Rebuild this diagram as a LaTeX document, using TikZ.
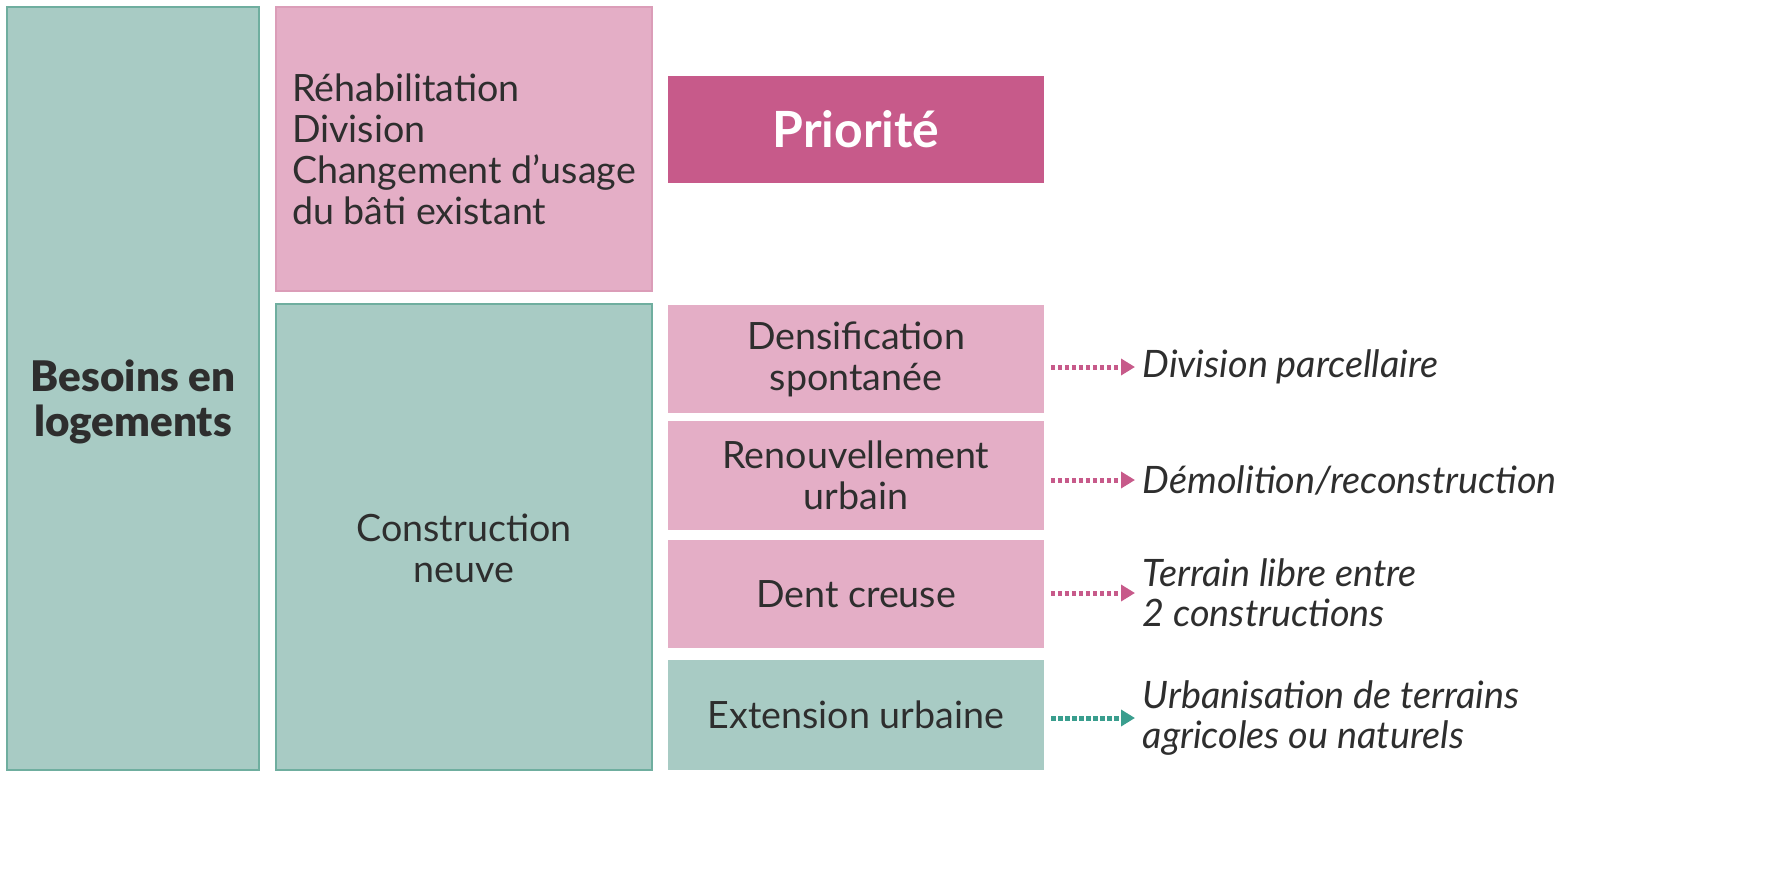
\documentclass[tikz,border=0pt]{standalone}
\usepackage{fontspec}
\setmainfont{Lato}[BoldFont={Lato Black}]
\newfontfamily\latobold{Lato Bold}
\usetikzlibrary{arrows.meta}

\definecolor{vert}{HTML}{A8CBC4}
\definecolor{vertbord}{HTML}{6FAE9F}
\definecolor{vertfleche}{HTML}{3A9E8E}
\definecolor{rose}{HTML}{E4AEC6}
\definecolor{rosebord}{HTML}{DB9DB8}
\definecolor{prio}{HTML}{C75A8A}
\definecolor{texte}{HTML}{2E2E2E}

\begin{document}
\begin{tikzpicture}[x=0.1mm,y=-0.1mm,
    every node/.style={text=texte, font=\fontsize{10.7pt}{11.7pt}\selectfont},
    vertbox/.style={fill=vert, draw=vertbord, line width=0.25mm, minimum width=37.6mm, inner sep=0pt, align=center},
    rosebox/.style={fill=rose, draw=rosebord, line width=0.15mm, minimum width=37.6mm, inner sep=0pt, align=center},
    sortie/.style={anchor=west, inner sep=0pt, align=left, font=\fontsize{10.75pt}{11.4pt}\selectfont\itshape},
    fleche/.style={line width=0.5mm, dash pattern=on 0.45mm off 0.25mm, -{Triangle[length=1.4mm,width=1.6mm]}}]
\useasboundingbox (0,0) rectangle (1773,885);

% colonne de gauche
\node[vertbox, minimum width=25.2mm, minimum height=76.3mm] (besoins) at (133,388.5) {};
\node[align=center, font=\fontsize{12pt}{12.9pt}\selectfont\bfseries] (besoinstxt) at (133,402) {Besoins en\\logements};

% bati existant / construction neuve
\node[rosebox, minimum height=28.4mm, align=left] (rehab) at (464,149)
    {Réhabilitation\\Division\\Changement d’usage\\du bâti existant};
\node[vertbox, minimum height=46.6mm] (constr) at (464,537) {};
\node[align=center] (constrtxt) at (464,548) {Construction\\neuve};

% priorite
\node[fill=prio, minimum width=37.6mm, minimum height=10.7mm, inner sep=0pt,
      text=white, font=\fontsize{14.2pt}{16pt}\latobold] (prio) at (856,129.5) {Priorité};

% types de construction neuve
\node[rosebox, draw=none, minimum height=10.8mm] (dens) at (856,359) {Densification\\spontanée};
\node[rosebox, draw=none, minimum height=10.9mm] (renouv) at (856,475.5) {Renouvellement\\urbain};
\node[rosebox, draw=none, minimum height=10.8mm] (dent) at (856,594) {Dent creuse};
\node[vertbox, draw=none, minimum height=11mm] (ext) at (856,715) {Extension urbaine};

% definitions
\node[sortie] (divp) at (1142,367) {Division parcellaire};
\node[sortie] (demol) at (1142,480) {Démolition/reconstruction};
\node[sortie] (terr) at (1142,593) {Terrain libre entre\\2 constructions};
\node[sortie] (urba) at (1142,718) {Urbanisation de terrains\\agricoles ou naturels};

\draw[fleche, prio] ([xshift=0.6mm]dens.east |- divp.west) -- ([xshift=-0.7mm]divp.west);
\draw[fleche, prio] ([xshift=0.6mm]renouv.east |- demol.west) -- ([xshift=-0.7mm]demol.west);
\draw[fleche, prio] ([xshift=0.6mm]dent.east |- terr.west) -- ([xshift=-0.7mm]terr.west);
\draw[fleche, vertfleche] ([xshift=0.6mm]ext.east |- urba.west) -- ([xshift=-0.7mm]urba.west);

\end{tikzpicture}
\end{document}
